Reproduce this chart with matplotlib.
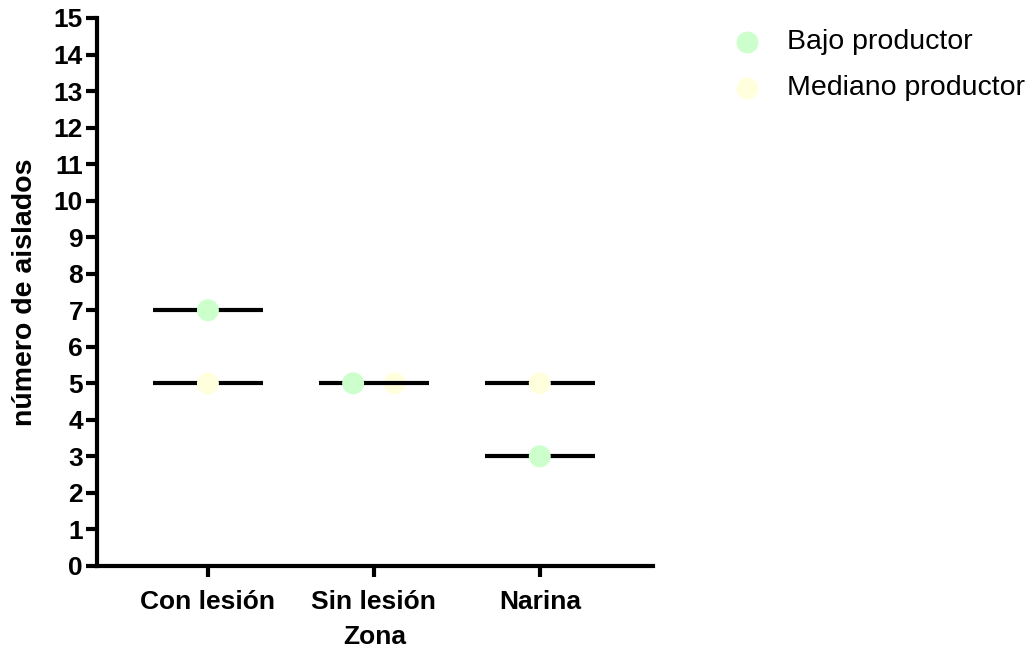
import matplotlib
matplotlib.use("Agg")
import matplotlib.pyplot as plt
from matplotlib.lines import Line2D
import numpy as np

plt.rcParams['font.family'] = ['Liberation Sans', 'DejaVu Sans']

categories = ["Con lesión", "Sin lesión", "Narina"]
series_names = ["Bajo productor", "Mediano productor"]
bajo = [7, 5, 3]
mediano = [5, 5, 5]
colors = ["#CCFFCC", "#FFFFDD"]
yticks = list(range(0, 16))

W, H = 1031, 651
fig = plt.figure(figsize=(W / 100, H / 100), dpi=100)
ax = fig.add_axes([0.094, 0.1306, 0.539, 0.8418])

x = np.arange(len(categories))
half = 0.33      # half-width of the summary lines
dodge = 0.125    # horizontal offset when both groups share a value

for i in x:
    vals = [bajo[i], mediano[i]]
    shared = vals[0] == vals[1]
    for v in sorted(set(vals)):
        ax.plot([i - half, i + half], [v, v], color="black", lw=3.0,
                solid_capstyle="butt", zorder=2)
    for k, v in enumerate(vals):
        xi = i + (dodge * (2 * k - 1) if shared else 0)
        z = 1.5 if (shared and k == 1) else 3
        ax.scatter([xi], [v], s=250, color=colors[k], edgecolors="none",
                   zorder=z, clip_on=False)

ax.set_xlim(-0.669, 2.68)
ax.set_ylim(0, 15)
ax.set_xticks(x)
ax.set_xticklabels(categories)
ax.set_yticks(yticks)

for s in ["top", "right"]:
    ax.spines[s].set_visible(False)
for s in ["left", "bottom"]:
    ax.spines[s].set_linewidth(3)
ax.tick_params(axis="both", width=3, length=8, direction="out",
               labelsize=19, pad=2)
ax.tick_params(axis="x", labelsize=19, pad=9)
for lab in ax.get_xticklabels() + ax.get_yticklabels():
    lab.set_fontweight("bold")

ax.set_xlabel("Zona", fontsize=19, fontweight="bold", labelpad=8)
ax.set_ylabel("número de aislados", fontsize=20.5, fontweight="bold", labelpad=11)

# legend drawn in figure pixel coordinates
for k, (name, c) in enumerate(zip(series_names, colors)):
    yk = 1 - (42 + 46 * k) / H
    fig.add_artist(Line2D([747 / W], [yk], marker="o", linestyle="none",
                          markersize=15.8, markerfacecolor=c,
                          markeredgecolor="none", transform=fig.transFigure))
    fig.text(787 / W, yk, name, fontsize=20.5, va="center", ha="left")

fig.savefig("out.png", dpi=100)
